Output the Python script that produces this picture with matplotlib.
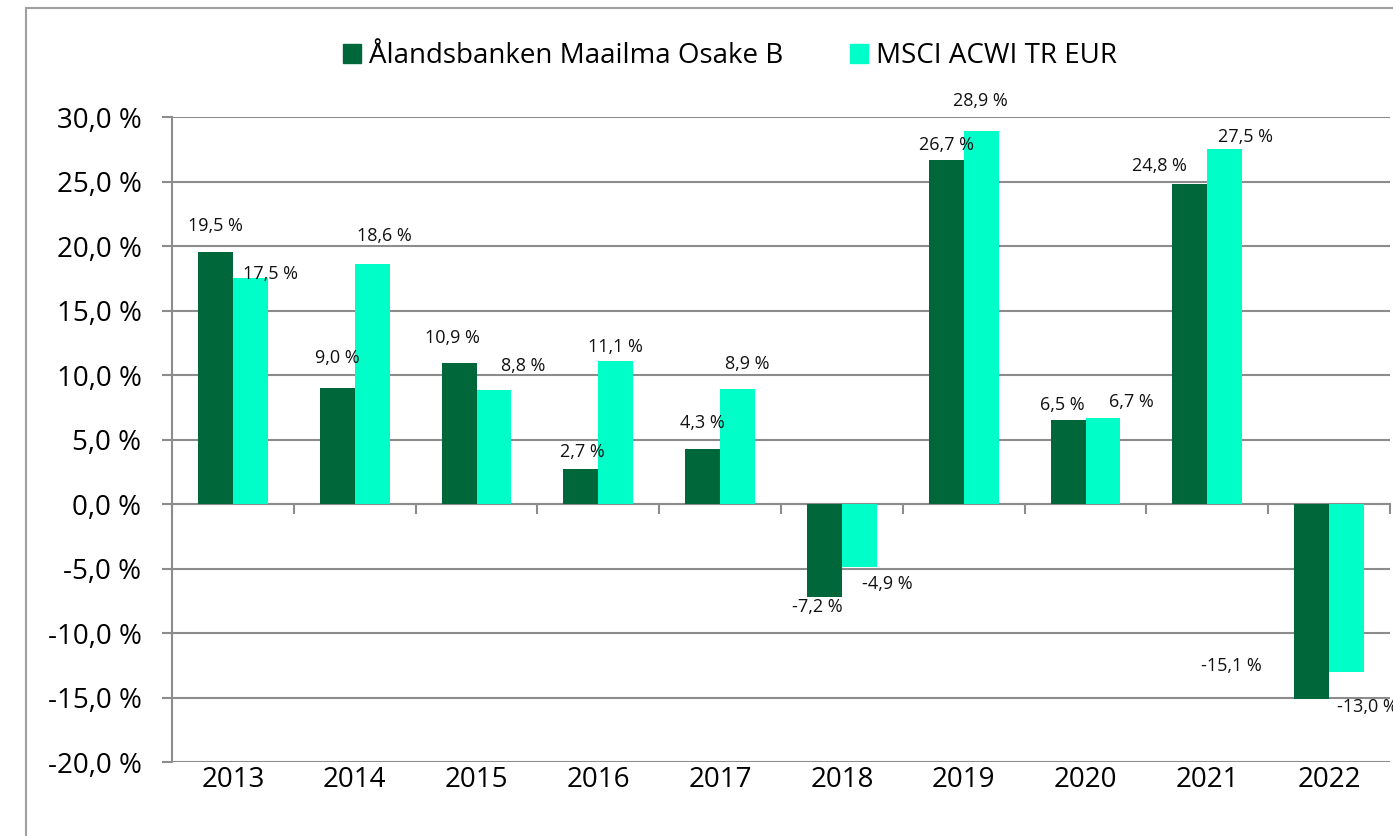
import matplotlib
matplotlib.use('Agg')
import matplotlib.pyplot as plt
from matplotlib.patches import Patch, Rectangle
import numpy as np

plt.rcParams['font.family'] = ['Open Sans', 'DejaVu Sans']
plt.rcParams['axes.unicode_minus'] = False

years = ['2013', '2014', '2015', '2016', '2017', '2018', '2019', '2020', '2021', '2022']
fund = [19.5, 9.0, 10.9, 2.7, 4.3, -7.2, 26.7, 6.5, 24.8, -15.1]
index = [17.5, 18.6, 8.8, 11.1, 8.9, -4.9, 28.9, 6.7, 27.5, -13.0]
series_names = ['Ålandsbanken Maailma Osake B', 'MSCI ACWI TR EUR']

# label nudges (pixels, relative to bar end) - labels were hand placed in the original
fund_offsets = [(0, 26), (0, 30), (-7, 25), (2, 17), (0, 26), (-7, -10), (0, 15), (-6, 15), (-30, 18), (-80, 33)]
index_offsets = [(20, 4), (12, 28), (29, 24), (0, 14), (10, 25), (28, -17), (-1, 30), (28, 16), (21, 12), (21, -35)]

dark = '#00673A'
light = '#00FFC8'
grey = '#8c8c8c'


def pct(v):
    return ('%.1f %%' % v).replace('.', ',')


fig = plt.figure(figsize=(13.93, 8.36), dpi=100)
ax = fig.add_axes([172 / 1393, 1 - 762 / 836, (1390 - 172) / 1393, (762 - 117) / 836])

x = np.arange(len(years))
w = 0.287
b1 = ax.bar(x - w / 2, fund, w, color=dark, zorder=3)
b2 = ax.bar(x + w / 2, index, w, color=light, zorder=3)

for bars, vals, offs in [(b1, fund, fund_offsets), (b2, index, index_offsets)]:
    for bar, v, (dx, dy) in zip(bars, vals, offs):
        ax.annotate(pct(v), (bar.get_x() + bar.get_width() / 2, v), xytext=(dx, dy),
                    textcoords='offset pixels', ha='center', va='center',
                    fontsize=13, color='#111111', zorder=4, annotation_clip=False)

ymin, ymax = -20, 30
ax.set_ylim(ymin, ymax)
ax.set_xlim(-0.5, len(years) - 0.5)
ax.set_yticks(np.arange(ymin, ymax + 1, 5))
ax.set_yticklabels([pct(t) for t in np.arange(ymin, ymax + 1, 5)])
ax.yaxis.grid(True, color=grey, lw=1.5, zorder=0)
ax.tick_params(axis='y', length=7, width=1.5, color=grey, labelsize=20, pad=15)

ax.set_xticks(x)
ax.set_xticklabels(years)
ax.tick_params(axis='x', length=0, labelsize=20, pad=3)

for s in ['top', 'right', 'bottom']:
    ax.spines[s].set_visible(False)
ax.spines['left'].set_color(grey)
ax.spines['left'].set_linewidth(1.5)

# category axis crossing at zero, with tick marks between the years
sec = ax.secondary_xaxis((0 - ymin) / (ymax - ymin))
sec.set_xticks(np.arange(len(years) + 1) - 0.5)
sec.set_xticklabels([])
sec.tick_params(length=7, width=1.5, color=grey, direction='out')
sec.spines['bottom'].set_color(grey)
sec.spines['bottom'].set_linewidth(1.5)

handles = [Patch(color=dark), Patch(color=light)]
fig.legend(handles, series_names, loc='center', bbox_to_anchor=(730 / 1393, 1 - 56 / 836),
           ncol=2, frameon=False, fontsize=20, handlelength=0.65, handleheight=0.65,
           handletextpad=0.3, columnspacing=2.4)

fig.patches.append(Rectangle((26 / 1393, -0.1), 1.2, 1.1 - 8 / 836, transform=fig.transFigure,
                             fill=False, edgecolor='#a0a0a0', lw=1.5))

fig.savefig('out.png', dpi=100)
